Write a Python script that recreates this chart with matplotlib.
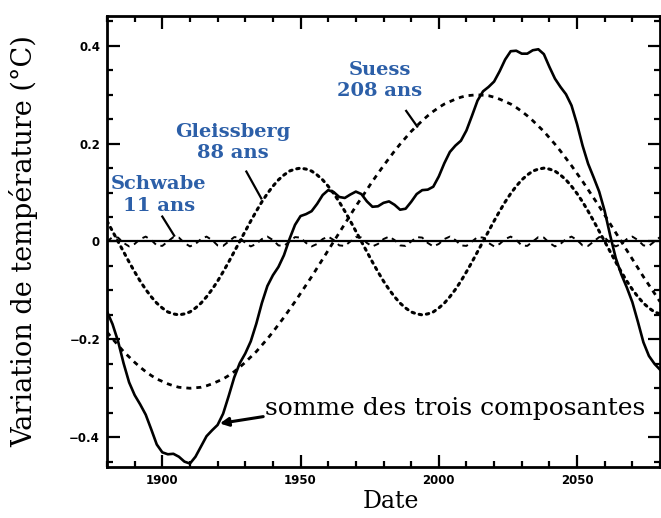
import matplotlib
matplotlib.use("Agg")
import matplotlib.pyplot as plt
from matplotlib.ticker import MultipleLocator, FixedFormatter, FixedLocator

# ---- data ----
years = list(range(1880, 2081, 2))

schwabe = [0, 0.009, 0.008, -0.003, -0.010, -0.005, 0.005, 0.010, 0.003, -0.008, -0.009,
           0, 0.009, 0.008, -0.003, -0.010, -0.005, 0.005, 0.010, 0.003, -0.008, -0.009,
           0, 0.009, 0.008, -0.003, -0.010, -0.005, 0.005, 0.010, 0.003, -0.008, -0.009,
           0, 0.009, 0.008, -0.003, -0.010, -0.005, 0.005, 0.010, 0.003, -0.008, -0.009,
           0, 0.009, 0.008, -0.003, -0.010, -0.005, 0.005, 0.010, 0.003, -0.008, -0.009,
           0, 0.009, 0.008, -0.003, -0.010, -0.005, 0.005, 0.010, 0.003, -0.008, -0.009,
           0, 0.009, 0.008, -0.003, -0.010, -0.005, 0.005, 0.010, 0.003, -0.008, -0.009,
           0, 0.009, 0.008, -0.003, -0.010, -0.005, 0.005, 0.010, 0.003, -0.008, -0.009,
           0, 0.009, 0.008, -0.003, -0.010, -0.005, 0.005, 0.010, 0.003, -0.008, -0.009,
           0, 0.009]

gleissberg = [0.042, 0.021, 0.000, -0.021, -0.042, -0.062, -0.081, -0.098, -0.113, -0.126,
              -0.136, -0.144, -0.148, -0.150, -0.148, -0.144, -0.136, -0.126, -0.113, -0.098,
              -0.081, -0.062, -0.042, -0.021, 0.000, 0.021, 0.042, 0.062, 0.081, 0.098,
              0.113, 0.126, 0.136, 0.144, 0.148, 0.150, 0.148, 0.144, 0.136, 0.126,
              0.113, 0.098, 0.081, 0.062, 0.042, 0.021, 0.000, -0.021, -0.042, -0.062,
              -0.081, -0.098, -0.113, -0.126, -0.136, -0.144, -0.148, -0.150, -0.148, -0.144,
              -0.136, -0.126, -0.113, -0.098, -0.081, -0.062, -0.042, -0.021, 0.000, 0.021,
              0.042, 0.062, 0.081, 0.098, 0.113, 0.126, 0.136, 0.144, 0.148, 0.150,
              0.148, 0.144, 0.136, 0.126, 0.113, 0.098, 0.081, 0.062, 0.042, 0.021,
              0.000, -0.021, -0.042, -0.062, -0.081, -0.098, -0.113, -0.126, -0.136, -0.144,
              -0.148]

suess = [-0.185, -0.199, -0.212, -0.225, -0.236, -0.247, -0.257, -0.266, -0.274, -0.281,
         -0.286, -0.291, -0.295, -0.298, -0.299, -0.300, -0.299, -0.298, -0.295, -0.291,
         -0.286, -0.281, -0.274, -0.266, -0.257, -0.247, -0.236, -0.225, -0.212, -0.199,
         -0.185, -0.170, -0.155, -0.139, -0.123, -0.106, -0.089, -0.072, -0.054, -0.036,
         -0.018, 0.000, 0.018, 0.036, 0.054, 0.072, 0.089, 0.106, 0.123, 0.139,
         0.155, 0.170, 0.185, 0.199, 0.212, 0.225, 0.236, 0.247, 0.257, 0.266,
         0.274, 0.281, 0.286, 0.291, 0.295, 0.298, 0.299, 0.300, 0.299, 0.298,
         0.295, 0.291, 0.286, 0.281, 0.274, 0.266, 0.257, 0.247, 0.236, 0.225,
         0.212, 0.199, 0.185, 0.170, 0.155, 0.139, 0.123, 0.106, 0.089, 0.072,
         0.054, 0.036, 0.018, 0.000, -0.018, -0.036, -0.054, -0.072, -0.089, -0.106,
         -0.123]

somme = [-0.143, -0.169, -0.204, -0.249, -0.288, -0.314, -0.333, -0.354, -0.384, -0.415,
         -0.431, -0.435, -0.434, -0.440, -0.450, -0.454, -0.440, -0.419, -0.398, -0.386,
         -0.375, -0.352, -0.316, -0.278, -0.249, -0.229, -0.204, -0.168, -0.126, -0.091,
         -0.069, -0.052, -0.028, 0.005, 0.034, 0.052, 0.056, 0.062, 0.077, 0.095,
         0.105, 0.101, 0.091, 0.089, 0.096, 0.102, 0.097, 0.082, 0.071, 0.072,
         0.079, 0.082, 0.075, 0.065, 0.067, 0.081, 0.097, 0.105, 0.106, 0.112,
         0.133, 0.160, 0.183, 0.196, 0.206, 0.227, 0.257, 0.288, 0.307, 0.316,
         0.327, 0.348, 0.372, 0.389, 0.390, 0.384, 0.384, 0.391, 0.393, 0.383,
         0.357, 0.333, 0.316, 0.301, 0.278, 0.240, 0.196, 0.159, 0.131, 0.102,
         0.062, 0.012, -0.034, -0.067, -0.094, -0.124, -0.164, -0.206, -0.234, -0.250,
         -0.262]

ytick_vals = [-0.4, -0.2, 0, 0.2, 0.4]
ytick_labels = ["\u22120.4", "\u22120.2", "0", "0.2", "0.4"]
xtick_vals = [1900, 1950, 2000, 2050]
xtick_labels = ["1900", "1950", "2000", "2050"]

# ---- figure ----
fig = plt.figure(figsize=(6.61, 5.18), dpi=100)
ax = fig.add_axes([107/661, 1-467/518, (660-107)/661, (467-16)/518])

ax.axhline(0, color="black", lw=1.6, zorder=2)
ax.plot(years, schwabe, color="black", lw=1.4, ls=(0, (3, 2.5)), zorder=3)
ax.plot(years, gleissberg, color="black", lw=2.2, ls=(0, (0.8, 1.6)),
        dash_capstyle="round", zorder=3)
ax.plot(years, suess, color="black", lw=2.0, ls=(0, (1.8, 1.8)), zorder=3)
ax.plot(years, somme, color="black", lw=1.9, zorder=4)

ax.set_xlim(1880, 2080)
ax.set_ylim(-0.461, 0.461)

ax.yaxis.set_major_locator(FixedLocator(ytick_vals))
ax.yaxis.set_major_formatter(FixedFormatter(ytick_labels))
ax.yaxis.set_minor_locator(MultipleLocator(0.05))
ax.xaxis.set_major_locator(FixedLocator(xtick_vals))
ax.xaxis.set_major_formatter(FixedFormatter(xtick_labels))
ax.xaxis.set_minor_locator(MultipleLocator(10))

ax.tick_params(which="both", direction="in", top=True, right=True, width=1.6)
ax.tick_params(which="major", length=9, pad=5)
ax.tick_params(which="minor", length=4.5)
for lab in ax.get_xticklabels() + ax.get_yticklabels():
    lab.set_fontfamily("DejaVu Sans")
    lab.set_fontweight("bold")
    lab.set_fontsize(8.5)
for s in ax.spines.values():
    s.set_linewidth(2.0)

ax.set_ylabel("Variation de temp\u00e9rature (\u00b0C)", fontfamily="DejaVu Serif",
              fontsize=19.5)
ax.yaxis.set_label_coords(-0.125, 0.5)
ax.set_xlabel("Date", fontfamily="DejaVu Serif", fontsize=17)
ax.xaxis.set_label_coords(0.513, -0.05)

blue = "#2c5fa8"
lab_kw = dict(color=blue, fontfamily="DejaVu Serif", fontweight="bold", fontsize=14,
              ha="center", va="center", linespacing=1.25)
ax.text(1978.7, 0.329, "Suess\n208 ans", **lab_kw)
ax.text(1925.6, 0.202, "Gleissberg\n88 ans", **lab_kw)
ax.text(1898.8, 0.095, "Schwabe\n11 ans", **lab_kw)

ax.plot([1988.2, 1992.2], [0.267, 0.235], color="black", lw=1.6)
ax.plot([1930.4, 1935.8], [0.143, 0.088], color="black", lw=1.6)
ax.plot([1900.0, 1904.3], [0.051, 0.012], color="black", lw=1.6)

ax.annotate("", xy=(1920.8, -0.372), xytext=(1936.5, -0.358),
            arrowprops=dict(arrowstyle="-|>,head_length=0.5,head_width=0.25",
                            color="black", lw=2.2, shrinkA=0, shrinkB=0))
ax.text(1937.0, -0.342, "somme des trois composantes", fontfamily="DejaVu Serif",
        fontsize=18, ha="left", va="center")

fig.savefig("out.png", dpi=100)
